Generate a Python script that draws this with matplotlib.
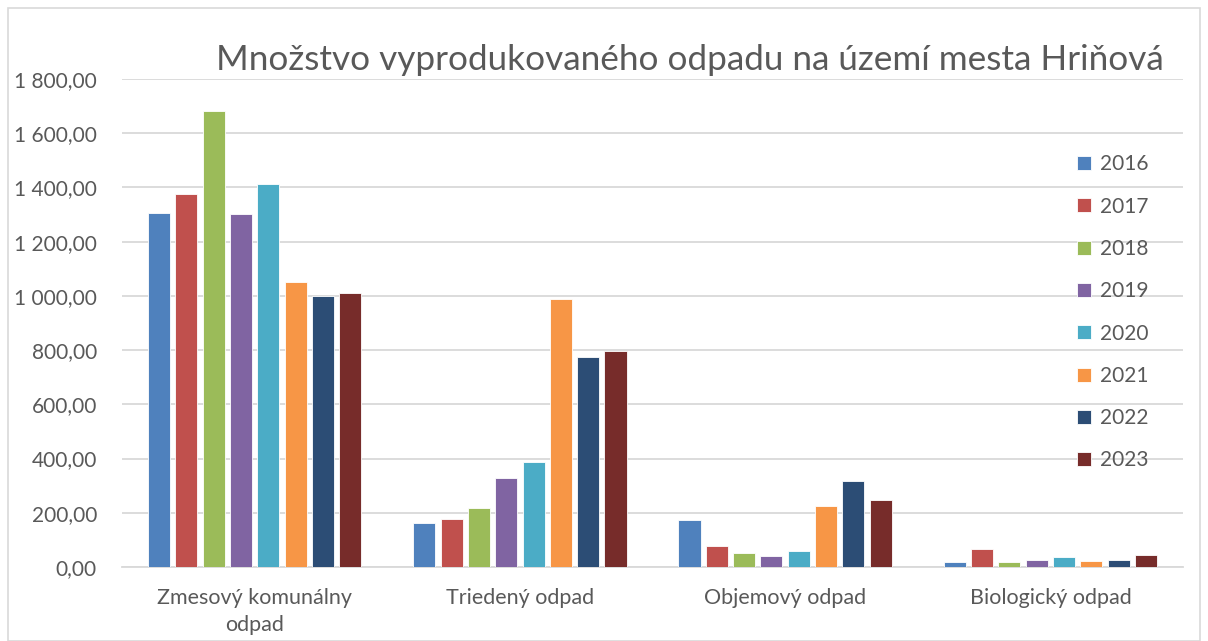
import matplotlib
matplotlib.use("Agg")
import matplotlib.pyplot as plt
from matplotlib.patches import Rectangle
from matplotlib.ticker import FuncFormatter, MultipleLocator
import numpy as np

categories = ["Zmesový komunálny\nodpad", "Triedený odpad", "Objemový odpad", "Biologický odpad"]
years = ["2016", "2017", "2018", "2019", "2020", "2021", "2022", "2023"]
v2016 = [1304, 161, 172, 20]
v2017 = [1374, 176, 77, 65]
v2018 = [1683, 217, 52, 17]
v2019 = [1301, 330, 41, 25]
v2020 = [1414, 388, 59, 36]
v2021 = [1051, 988, 226, 22]
v2022 = [998, 776, 319, 25]
v2023 = [1009, 797, 247, 44]
series = [v2016, v2017, v2018, v2019, v2020, v2021, v2022, v2023]
colors = ["#4F81BD", "#C0504D", "#9BBB59", "#8064A2", "#4BACC6", "#F79646", "#2C4D75", "#772C2A"]
title = "Množstvo vyprodukovaného odpadu na území mesta Hriňová"

plt.rcParams['font.family'] = ['Lato', 'DejaVu Sans']
txt = "#595959"

fig = plt.figure(figsize=(12.08, 6.41), dpi=100)
fig.patches.append(Rectangle((8/1208, 0), 1 - 16/1208, 1 - 8/641, transform=fig.transFigure,
                             fill=False, edgecolor="#D9D9D9", linewidth=1.2))
ax = fig.add_axes([122/1208, (641-567)/641, (1183-122)/1208, (567-79)/641])

x = np.arange(len(categories))
slot = 0.103
bw = 0.083
n = len(series)
for i, (vals, c, y) in enumerate(zip(series, colors, years)):
    off = (i - (n - 1) / 2) * slot
    ax.bar(x + off, vals, width=bw, color=c, edgecolor="white", linewidth=0.6, label=y, zorder=3)

ax.set_xlim(-0.5, len(categories) - 0.5)
ax.set_ylim(0, 1800)
ax.yaxis.set_major_locator(MultipleLocator(200))
def fmt(v, pos):
    s = f"{v:,.2f}"
    return s.replace(",", " ").replace(".", ",")
ax.yaxis.set_major_formatter(FuncFormatter(fmt))
ax.grid(axis="y", color="#D9D9D9", linewidth=1.3, zorder=0)
ax.set_axisbelow(True)
for s in ["top", "right", "left"]:
    ax.spines[s].set_visible(False)
ax.spines["bottom"].set_color("#D9D9D9")
ax.spines["bottom"].set_linewidth(1.3)
ax.tick_params(axis="both", length=0, colors=txt)
ax.tick_params(axis="y", pad=18, labelsize=15)
ax.tick_params(axis="x", pad=15, labelsize=15.5)
ax.set_xticks(x)
ax.set_xticklabels(categories, linespacing=1.45)

fig.text(690/1208, 1 - 60/641, title, ha="center", va="center", fontsize=25.3, color=txt)

leg = ax.legend(loc="upper left", bbox_to_anchor=((1067-122)/(1183-122), (567-144)/(567-79)),
                frameon=False, fontsize=15, labelspacing=1.07, handlelength=0.65,
                handleheight=0.65, handletextpad=0.45, borderpad=0)
for t in leg.get_texts():
    t.set_color(txt)

fig.savefig("out.png", dpi=100)
